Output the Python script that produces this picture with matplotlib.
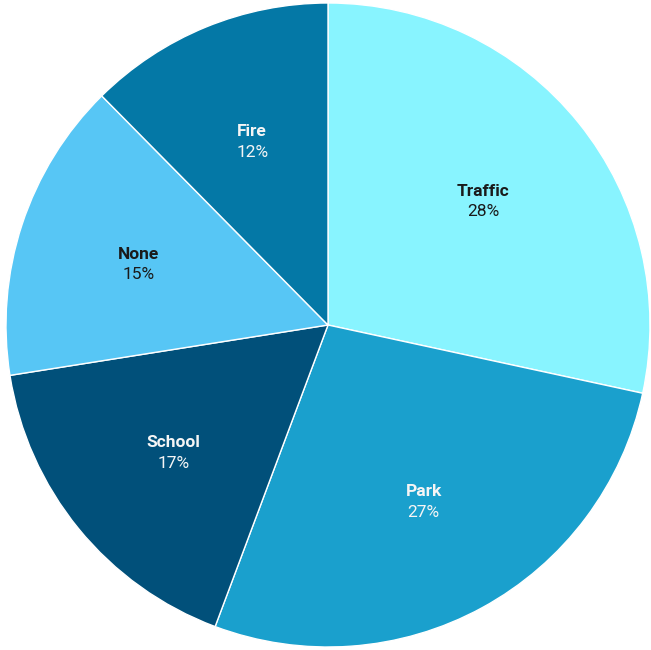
import numpy as np
import matplotlib.pyplot as plt

# slice shares, clockwise from 12 o'clock
labels = ['Traffic', 'Park', 'School', 'None', 'Fire']
shares = [28.4, 27.3, 16.8, 15.1, 12.4]
colors = ['#88F4FF', '#1AA0CD', '#01507A', '#57C6F5', '#0478A6']
text_colors = ['#1a1a1a', '#f5f5f5', '#f5f5f5', '#1a1a1a', '#f5f5f5']

plt.rcParams['font.family'] = ['Roboto', 'DejaVu Sans']

fig = plt.figure(figsize=(6.51, 6.5), dpi=100)
ax = fig.add_axes([6 / 651, 3 / 650, 644 / 651, 644 / 650])

wedges, _ = ax.pie(shares, colors=colors, startangle=90, counterclock=False,
                   radius=1, wedgeprops=dict(edgecolor='white', linewidth=1))

total = sum(shares)
for w, name, val, tc in zip(wedges, labels, shares, text_colors):
    mid = np.deg2rad((w.theta1 + w.theta2) / 2)
    x, y = 0.62 * np.cos(mid), 0.62 * np.sin(mid) - 0.006
    ax.text(x, y + 0.032, name, ha='center', va='center', fontsize=12.5,
            fontweight='bold', color=tc)
    ax.text(x, y - 0.032, f'{val / total * 100:.0f}%', ha='center', va='center',
            fontsize=12.5, color=tc)

ax.set_xlim(-1, 1)
ax.set_ylim(-1, 1)
ax.set_aspect('equal')
ax.axis('off')

fig.savefig('out.png', dpi=100)
